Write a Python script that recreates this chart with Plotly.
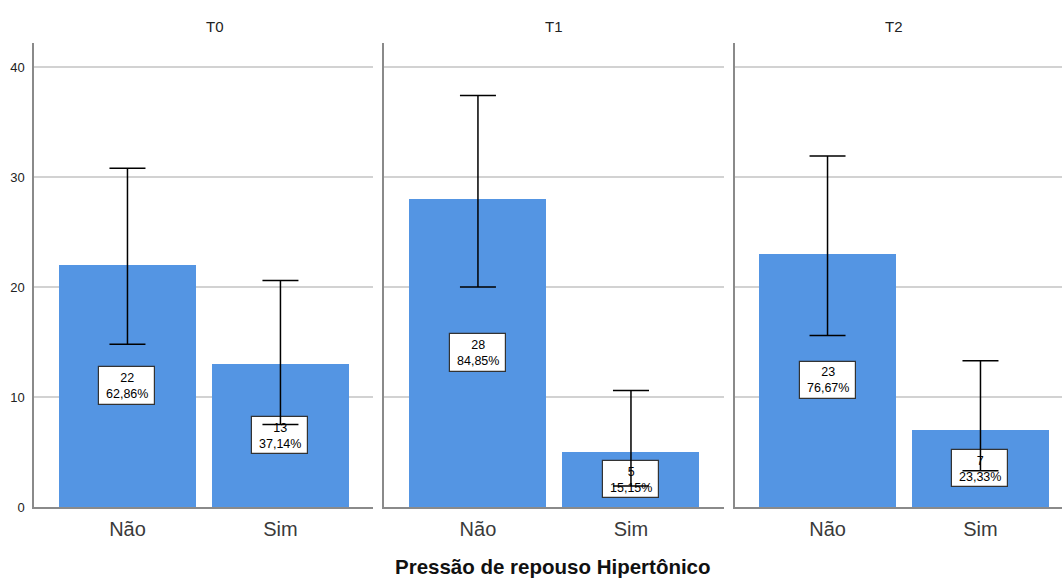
import plotly.graph_objects as go

# Counts per resting-pressure group at each time point
times = ["T0", "T1", "T2"]
categories = ["Não", "Sim"]
counts_t0 = [22, 13]
counts_t1 = [28, 5]
counts_t2 = [23, 7]
pct_t0 = ["62,86%", "37,14%"]
pct_t1 = ["84,85%", "15,15%"]
pct_t2 = ["76,67%", "23,33%"]
# 95% confidence interval bounds for each count
ci_low_t0 = [14.8, 7.5]
ci_high_t0 = [30.8, 20.6]
ci_low_t1 = [20.0, 1.9]
ci_high_t1 = [37.4, 10.6]
ci_low_t2 = [15.6, 3.3]
ci_high_t2 = [31.9, 13.3]
y_ticks = [0, 10, 20, 30, 40]

counts = [counts_t0, counts_t1, counts_t2]
pcts = [pct_t0, pct_t1, pct_t2]
lows = [ci_low_t0, ci_low_t1, ci_low_t2]
highs = [ci_high_t0, ci_high_t1, ci_high_t2]

W, H = 1062, 579
BAR_COLOR = "#5495E3"
AXIS_GRAY = "#8a8a8a"
GRID_GRAY = "#d2d2d2"
FONT = "Liberation Sans, Arial, sans-serif"

# Panel geometry in pixels
panel_px = [(34, 373), (384, 724), (735, 1062)]
x_ranges = [[-0.611, 1.605], [-0.614, 1.608], [-0.605, 1.533]]
y_bottom_px, y_top_px = 507, 43
y_max = 42.18
BOX_W = 0.366      # label box width in category units
BOX_H = 3.45       # label box height in value units

fig = go.Figure()

for i, t in enumerate(times):
    sfx = "" if i == 0 else str(i + 1)
    xa, ya = "x" + sfx, "y" + sfx
    vals = counts[i]
    # main bars
    fig.add_trace(go.Bar(
        x=categories, y=vals, width=0.895, marker=dict(color=BAR_COLOR, line=dict(width=0)),
        xaxis=xa, yaxis=ya, showlegend=False, hoverinfo="skip"))
    # white label boxes centred at half bar height
    fig.add_trace(go.Bar(
        x=categories, y=[BOX_H] * len(vals), base=[v / 2 - BOX_H / 2 for v in vals],
        width=BOX_W, marker=dict(color="white", line=dict(color="#333333", width=1.2)),
        xaxis=xa, yaxis=ya, showlegend=False, hoverinfo="skip"))
    # confidence-interval error bars
    fig.add_trace(go.Scatter(
        x=categories, y=vals, mode="markers", marker=dict(size=1, opacity=0),
        error_y=dict(type="data", symmetric=False,
                     array=[h - v for h, v in zip(highs[i], vals)],
                     arrayminus=[v - l for v, l in zip(vals, lows[i])],
                     color="black", thickness=1.5, width=18),
        xaxis=xa, yaxis=ya, showlegend=False, hoverinfo="skip"))
    # count and percentage text inside each box
    for c, v, p in zip(categories, vals, pcts[i]):
        fig.add_annotation(x=c, y=v / 2, xref=xa, yref=ya, text=f"{v}<br>{p}",
                           showarrow=False, borderpad=0,
                           font=dict(family=FONT, size=12.5, color="black"))

    x0, x1 = panel_px[i]
    dom = [x0 / W, x1 / W]
    fig.layout["xaxis" + sfx] = dict(
        domain=dom, anchor=ya, type="category", range=x_ranges[i], automargin=False,
        showline=True, linecolor=AXIS_GRAY, linewidth=1.5, showgrid=False,
        ticks="outside", ticklen=3, tickcolor="rgba(0,0,0,0)",
        tickfont=dict(family=FONT, size=20, color="#3a3a3a"), zeroline=False)
    fig.layout["yaxis" + sfx] = dict(
        domain=[1 - y_bottom_px / H, 1 - y_top_px / H], anchor=xa, range=[0, y_max],
        tickvals=y_ticks, showticklabels=(i == 0), automargin=False,
        ticks="outside", ticklen=5, tickcolor="rgba(0,0,0,0)",
        tickfont=dict(family=FONT, size=13, color="#222222"),
        showline=True, linecolor=AXIS_GRAY, linewidth=1.5,
        showgrid=True, gridcolor=GRID_GRAY, gridwidth=1.5, zeroline=False)
    # facet title
    fig.add_annotation(
        x=(x0 + (x0 + 339)) / 2 / W, y=1 - 27 / H, xref="paper", yref="paper",
        yanchor="middle", text=t, showarrow=False,
        font=dict(family=FONT, size=15, color="#222222"))

fig.add_annotation(
    x=553 / W, y=0, xref="paper", yref="paper", yanchor="bottom", borderpad=0,
    text="<b>Pressão de repouso Hipertônico</b>", showarrow=False,
    font=dict(family=FONT, size=20.5, color="#111111"))

fig.update_layout(
    template="none",
    width=W, height=H, margin=dict(l=0, r=0, t=0, b=0, pad=0),
    barmode="overlay", bargap=0,
    paper_bgcolor="white", plot_bgcolor="white")

fig.write_html("out.html")
